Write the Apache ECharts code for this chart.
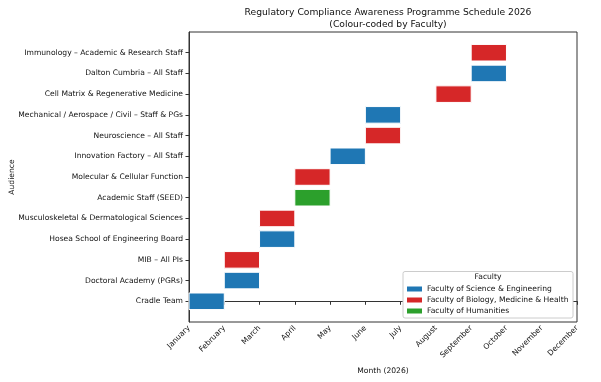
<!DOCTYPE html>
<html><head><meta charset="utf-8">
<script src="https://cdn.jsdelivr.net/npm/echarts@6/dist/echarts.min.js"></script>
<style>html,body{margin:0;padding:0;background:#fff}#c{width:601px;height:382px}</style>
</head><body><div id="c"></div>
<script>
var months = ["January","February","March","April","May","June","July","August","September","October","November","December"];
var audiences = ["Cradle Team","Doctoral Academy (PGRs)","MIB – All PIs","Hosea School of Engineering Board","Musculoskeletal & Dermatological Sciences","Academic Staff (SEED)","Molecular & Cellular Function","Innovation Factory – All Staff","Neuroscience – All Staff","Mechanical / Aerospace / Civil – Staff & PGs","Cell Matrix & Regenerative Medicine","Dalton Cumbria – All Staff","Immunology – Academic & Research Staff"];
var startMonth = ["January","February","February","March","March","April","April","May","June","June","August","September","September"];
var endMonth = ["February","March","March","April","April","May","May","June","July","July","September","October","October"];
var faculty = ["SE","SE","BMH","SE","BMH","HUM","BMH","SE","BMH","SE","BMH","SE","BMH"];
var facultyKeys = ["SE","BMH","HUM"];
var facultyNames = ["Faculty of Science & Engineering","Faculty of Biology, Medicine & Health","Faculty of Humanities"];
var facultyColors = ["#1f77b4","#d62728","#2ca02c"];

var chart = echarts.init(document.getElementById('c'), null, {renderer:'canvas'});
var FONT = 'DejaVu Sans';
var FS = 7.6;

function renderBar(params, api){
  var s = api.value(0), e = api.value(1), y = api.value(2);
  var p0 = api.coord([s, y]);
  var p1 = api.coord([e, y]);
  var h = api.size([0, 0.8])[1];
  return {
    type:'rect',
    shape:{x:p0[0], y:p0[1]-h/2, width:p1[0]-p0[0], height:h},
    style:{fill:api.visual('color'), stroke:'#ffffff', lineWidth:1}
  };
}

var series = facultyKeys.map(function(k, fi){
  var d = [];
  for (var i=0;i<audiences.length;i++){
    if (faculty[i]===k) d.push([months.indexOf(startMonth[i]), months.indexOf(endMonth[i]), i]);
  }
  return {type:'custom', name:facultyNames[fi], itemStyle:{color:facultyColors[fi]}, renderItem:renderBar, encode:{x:[0,1], y:2}, data:d};
});

var yTicks = audiences.map(function(_, i){return i;});

chart.setOption({
  animation:false,
  backgroundColor:'#fff',
  title:{
    text:'Regulatory Compliance Awareness Programme Schedule 2026\n(Colour-coded by Faculty)',
    left:383, top:2, textAlign:'center',
    textStyle:{fontFamily:FONT, fontSize:9.2, fontWeight:'normal', color:'#111', lineHeight:11.5}
  },
  grid:{left:189, right:24, top:32, bottom:60, show:true, borderColor:'#333', borderWidth:1, containLabel:false, outerBoundsMode:'none'},
  xAxis:{
    type:'value', min:0, max:11, interval:1,
    name:'Month (2026)', nameLocation:'middle', nameGap:45, nameMoveOverlap:false,
    nameTextStyle:{fontFamily:FONT, fontSize:FS, color:'#111'},
    axisLine:{show:true, lineStyle:{color:'#333'}},
    axisTick:{show:true, length:3.5, lineStyle:{color:'#333'}},
    splitLine:{show:false},
    axisLabel:{fontFamily:FONT, fontSize:FS, color:'#111', rotate:45, margin:5,
      formatter:function(v){return months[v]||'';}}
  },
  yAxis:{
    type:'value', min:-1, max:audiences.length, interval:1,
    name:'Audience', nameLocation:'middle', nameGap:173, nameRotate:90, nameMoveOverlap:false,
    nameTextStyle:{fontFamily:FONT, fontSize:FS, color:'#111'},
    axisLine:{show:true, lineStyle:{color:'#333'}},
    axisTick:{show:true, length:3.5, lineStyle:{color:'#333'}, customValues:yTicks},
    splitLine:{show:false},
    axisLabel:{fontFamily:FONT, fontSize:FS, color:'#111', margin:6, customValues:yTicks,
      formatter:function(v){return audiences[v]||'';}}
  },
  legend:{
    orient:'vertical', left:407, top:285, z:20,
    icon:'rect', itemWidth:15, itemHeight:5, itemGap:3, padding:0,
    textStyle:{fontFamily:FONT, fontSize:FS, color:'#111'},
    data:facultyNames
  },
  graphic:[
    {type:'rect', z:1, shape:{x:403, y:271.5, width:170, height:46.5, r:2}, style:{fill:'#fff', stroke:'#ccc', lineWidth:1}},
    {type:'text', z:2, x:488, y:273, style:{text:'Faculty', fontFamily:FONT, fontSize:FS, fill:'#111', textAlign:'center'}}
  ],
  series:series
});
</script></body></html>
